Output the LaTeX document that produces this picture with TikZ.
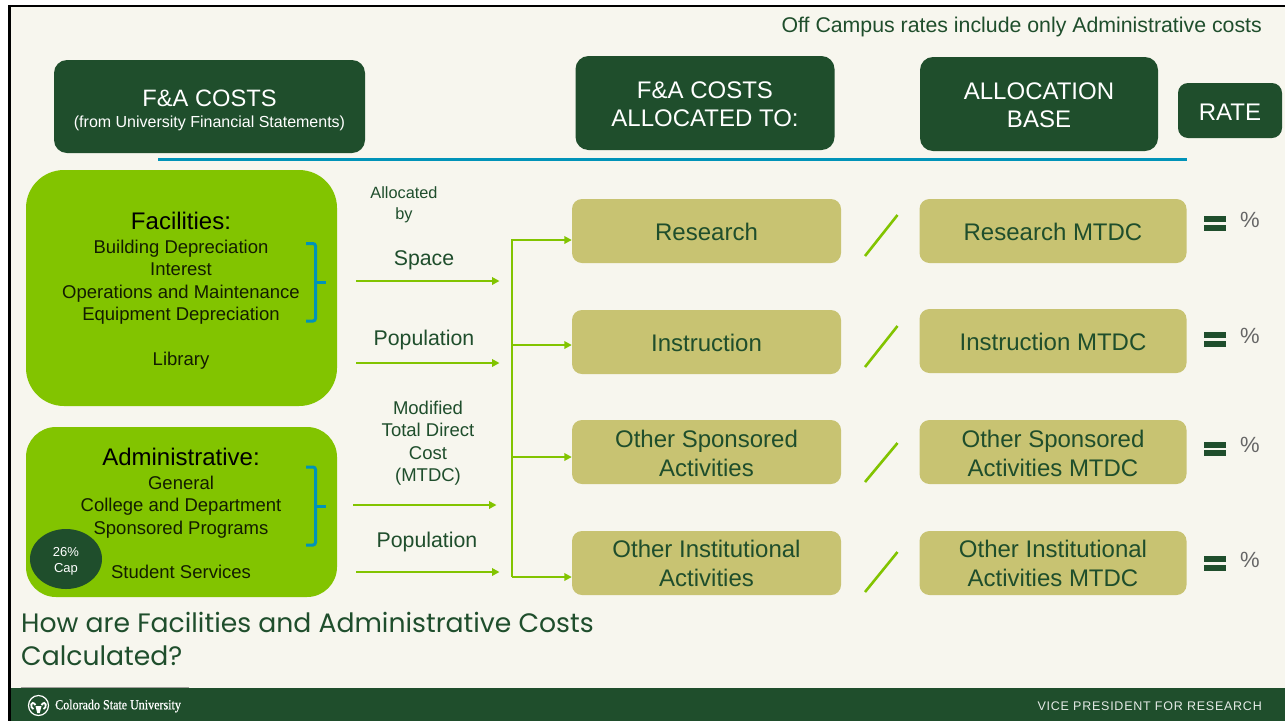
\documentclass[tikz,border=0pt]{standalone}
\usepackage{fontspec}
\setmainfont{Liberation Sans}
\newfontfamily\popp{Poppins}
\newfontfamily\serifw[FakeStretch=0.86,FakeBold=0.6]{Liberation Serif}
\newfontfamily\trackedsans[LetterSpace=6]{Liberation Sans}
\usetikzlibrary{arrows.meta,shapes.geometric}
\definecolor{dkgreen}{HTML}{1F4E2C}
\definecolor{ltgreen}{HTML}{82C400}
\definecolor{olivebox}{HTML}{C8C372}
\definecolor{paper}{HTML}{F7F6EE}
\definecolor{bluel}{HTML}{0093B8}
\definecolor{gtext}{HTML}{1F4E2C}
\newcommand{\fs}[2]{\fontsize{#1pt}{#2pt}\selectfont}
\newcommand{\lift}[1]{\rule{0pt}{#1pt}}
\tikzset{
 head/.style={fill=dkgreen,text=white,rounded corners=13pt,align=center,inner sep=0pt,font=\fs{24}{27.5}},
 olive/.style={fill=olivebox,text=gtext,rounded corners=10pt,align=center,inner sep=0pt,font=\fs{24}{29},minimum height=64pt},
 bigbox/.style={fill=ltgreen,inner sep=0pt,minimum width=311pt,text=black},
 lab/.style={text=gtext,align=center,inner sep=0pt,font=\fs{21.3}{27}},
 small/.style={text=black!85!ltgreen,align=center,inner sep=0pt,font=\fs{18.5}{22.5}},
 flow/.style={draw=ltgreen,line width=2.6pt},
 arr/.style={flow,-{Triangle[length=7.5pt,width=7.5pt]}},
 slash/.style={draw=ltgreen,line width=2.6pt},
 brace/.style={draw=bluel,line width=3pt,rounded corners=2.5pt},
 eqbar/.style={fill=dkgreen,inner sep=0pt,minimum width=22pt,minimum height=6pt},
 pct/.style={text=black!60,inner sep=0pt,font=\fs{22}{25}},
}
\begin{document}
\begin{tikzpicture}[x=1pt,y=-1pt]
\useasboundingbox (0,0) rectangle (1285,721);
\fill[white] (0,0) rectangle (1285,721);
\fill[black] (8,5) rectangle (1285,721);
\fill[paper] (10.5,7) rectangle (1285,721);
% footer
\fill[dkgreen] (10.5,688) rectangle (1285,721);
\fill[black!35!paper] (21,686.6) rectangle (189,688);

\node[text=gtext,anchor=east,inner sep=0pt,font=\fs{21.3}{25}] (note) at (1262,27) {Off Campus rates include only Administrative costs};

% headers
\node[head,minimum width=311pt,minimum height=93pt] (h1) at (209.5,106.5) {};
\node[text=white,inner sep=0pt,font=\fs{23.7}{27}] (h1a) at (209.5,98) {F\&A COSTS};
\node[text=white,inner sep=0pt,font=\fs{16}{20}] (h1b) at (209.5,123) {(from University Financial Statements)};
\node[head,minimum width=259pt,minimum height=94pt] (h2) at (705,103) {\lift{19.2}F\&A COSTS\\ALLOCATED TO:};
\node[head,minimum width=238pt,minimum height=94pt] (h3) at (1039,104) {\lift{19.2}ALLOCATION\\BASE};
\node[head,rounded corners=10pt,minimum width=104pt,minimum height=55pt,font=\fs{24}{27}] (h4) at (1230,110.5) {\lift{20.2}RATE};
\coordinate (bl) at (158,159.5); \coordinate (br) at (1187,159.5);
\draw[draw=bluel,line width=3pt] (bl) -- (br);

% big boxes
\node[bigbox,rounded corners=38pt,minimum height=236pt] (fac) at (181.5,288) {};
\node[bigbox,rounded corners=30pt,minimum height=170pt] (adm) at (181.5,512) {};
\node[inner sep=0pt,font=\fs{24}{28}] (factitle) at (181,221) {Facilities:};
\node[small,anchor=north] (facitems) at (181,239.5) {Building Depreciation\\Interest\\Operations and Maintenance\\Equipment Depreciation};
\node[small] (lib) at (181,361) {Library};
\node[inner sep=0pt,font=\fs{24}{28}] (admtitle) at (181,457) {Administrative:};
\node[small,anchor=north] (admitems) at (181,475.5) {General\\College and Department\\Sponsored Programs};
\node[small] (ss) at (181,572) {Student Services};
\node[fill=dkgreen,text=white,ellipse,minimum width=72pt,minimum height=60pt,inner sep=0pt,align=center,font=\fs{13}{16}] (cap) at (66,559) {\lift{13.5}26\%\\Cap};

% braces
\coordinate (b1a) at (306,243.5); \coordinate (b1b) at (315.5,243.5); \coordinate (b1c) at (315.5,321); \coordinate (b1d) at (306,321);
\coordinate (b1m) at (315.5,282); \coordinate (b1t) at (325.5,282);
\draw[brace] (b1a) -- (b1b) -- (b1c) -- (b1d);
\draw[brace] (b1m) -- (b1t);
\coordinate (b2a) at (306,467); \coordinate (b2b) at (315.5,467); \coordinate (b2c) at (315.5,545); \coordinate (b2d) at (306,545);
\coordinate (b2m) at (315.5,506); \coordinate (b2t) at (325.5,506);
\draw[brace] (b2a) -- (b2b) -- (b2c) -- (b2d);
\draw[brace] (b2m) -- (b2t);

% labels
\node[lab,font=\fs{16.3}{21.5}] (alloc) at (404,205) {Allocated\\by};
\node[lab] (space) at (424,260) {Space};
\node[lab] (pop1) at (424,340) {Population};
\node[lab,font=\fs{18.5}{22.5}] (mtdc) at (428,443) {Modified\\Total Direct\\Cost\\(MTDC)};
\node[lab] (pop2) at (427,542) {Population};

% olive boxes
\node[olive,minimum width=269pt] (r1) at (706.5,231) {\lift{19.6}Research};
\node[olive,minimum width=269pt] (r2) at (706.5,342) {\lift{19.6}Instruction};
\node[olive,minimum width=269pt] (r3) at (706.5,452) {\lift{19.6}Other Sponsored\\Activities};
\node[olive,minimum width=269pt] (r4) at (706.5,563) {Other Institutional\\Activities};
\node[olive,minimum width=267pt] (m1) at (1053,231) {\lift{19.6}Research MTDC};
\node[olive,minimum width=267pt] (m2) at (1053,341) {\lift{19.6}Instruction MTDC};
\node[olive,minimum width=267pt] (m3) at (1053,452) {\lift{19.6}Other Sponsored\\Activities MTDC};
\node[olive,minimum width=267pt] (m4) at (1053,563) {Other Institutional\\Activities MTDC};

% flows
\coordinate (s1) at (356,281); \coordinate (e1) at (499.5,281);
\coordinate (s2) at (356,363); \coordinate (e2) at (499.5,363);
\coordinate (s3) at (353,505); \coordinate (e3) at (496.5,505);
\coordinate (s4) at (356,572); \coordinate (e4) at (499.5,572);
\draw[arr] (s1) -- (e1);
\draw[arr] (s2) -- (e2);
\draw[arr] (s3) -- (e3);
\draw[arr] (s4) -- (e4);
\coordinate (tr) at (512,240); \coordinate (bt) at (512,577);
\coordinate (t2) at (512,345); \coordinate (t3) at (512,457);
\draw[arr] (bt) -- (tr) -- (r1.west |- tr);
\draw[arr] (t2) -- (r2.west |- t2);
\draw[arr] (t3) -- (r3.west |- t3);
\draw[arr] (bt) -- (r4.west |- bt);

% slashes
\foreach \n/\ya/\yb in {1/256/215,2/367/326,3/482/443,4/592/552}{
  \coordinate (sa\n) at (865,\ya); \coordinate (sb\n) at (897.5,\yb);
  \draw[slash] (sa\n) -- (sb\n);
}
% equals
\foreach \n/\ya/\yb in {1/219/228,2/335/344,3/445/453,4/559/568}{
  \node[eqbar] (eqa\n) at (1215,\ya) {};
  \node[eqbar] (eqb\n) at (1215,\yb) {};
}
\node[pct] (p1) at (1250,220) {\%};
\node[pct] (p2) at (1250,335.5) {\%};
\node[pct] (p3) at (1250,445) {\%};
\node[pct] (p4) at (1250,559.5) {\%};

% title
\node[text=gtext,anchor=north west,align=left,inner sep=0pt,font=\popp\fs{26.65}{33}] (title) at (21,612) {How are Facilities and Administrative Costs\\Calculated?};

% footer logo (ram head in a ring)
\node[draw=white,circle,line width=1.2pt,minimum size=20pt,inner sep=0pt] (logo) at (38.5,705.5) {};
\fill[white] (35.5,706) -- (41.5,706) -- (39.8,713) -- (37.2,713) -- cycle;
\draw[white,line width=1.8pt] (35.5,705) .. controls (31,699) and (29.5,708) .. (33.5,709);
\draw[white,line width=1.8pt] (41.5,705) .. controls (46,699) and (47.5,708) .. (43.5,709);
% footer text
\node[text=white,anchor=west,inner sep=0pt,font=\serifw\fs{14}{16}] (csu) at (55,706) {Colorado State University};
\node[text=white!88!dkgreen,anchor=east,inner sep=0pt,font=\trackedsans\fs{12.5}{16}] (vp) at (1262,706.5) {VICE PRESIDENT FOR RESEARCH};
\end{tikzpicture}
\end{document}
